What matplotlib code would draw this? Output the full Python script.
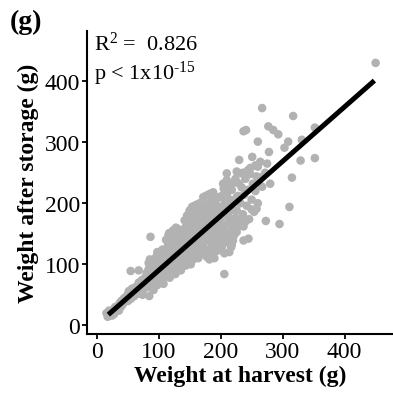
import numpy as np
import matplotlib.pyplot as plt

plt.rcParams['font.family'] = ['Liberation Serif', 'DejaVu Serif']
plt.rcParams['mathtext.fontset'] = 'custom'
plt.rcParams['mathtext.rm'] = 'Liberation Serif'
plt.rcParams['mathtext.it'] = 'Liberation Serif:italic'
plt.rcParams['mathtext.bf'] = 'Liberation Serif:bold'

# weight at harvest (g) and weight after storage (g), one entry per tuber
harvest = [
    16, 18, 20, 22, 24, 25, 27, 29, 30, 32, 34, 35, 37, 39, 40, 42, 44, 45, 47, 49, 28, 36,
    50, 51, 52, 53, 55, 56, 57, 58, 60, 61, 62, 63, 65, 66, 67, 68, 70, 71, 72, 73, 75, 76, 77, 78, 79, 74,
    80, 81, 82, 83, 84, 85, 86, 87, 88, 89, 90, 91, 92, 93, 94, 95, 96, 97, 98, 99, 100, 101, 102, 103,
    104, 105, 106, 107, 108, 109, 110, 84, 92, 96, 100, 104, 108, 86, 98, 106, 110, 88, 94, 102, 107,
    111, 112, 113, 114, 115, 116, 117, 118, 119, 120, 121, 122, 123, 124, 125, 126, 127, 128, 129, 130,
    131, 132, 133, 134, 135, 136, 137, 138, 139, 140, 112, 116, 120, 124, 128, 132, 136, 140, 114, 118,
    122, 126, 130, 134, 138, 113, 117, 121, 125, 129, 133, 137, 131, 135, 139,
    141, 142, 143, 144, 145, 146, 147, 148, 149, 150, 151, 152, 153, 154, 155, 156, 157, 158, 159, 160,
    161, 162, 163, 164, 165, 166, 167, 168, 169, 170, 142, 146, 150, 154, 158, 162, 166, 144, 148, 152,
    156, 160, 164, 168, 143, 147, 151, 155, 159, 163, 167, 145, 149, 153, 157, 161, 165, 169,
    171, 172, 173, 174, 175, 176, 177, 178, 179, 180, 181, 182, 183, 184, 185, 186, 187, 188, 189, 190,
    191, 192, 193, 194, 195, 196, 197, 198, 199, 200, 172, 176, 180, 184, 188, 174, 178, 182, 186, 190,
    194, 198, 173, 177, 181, 185, 189, 193, 197, 175, 179, 183, 187, 191, 195,
    201, 202, 203, 204, 205, 206, 207, 208, 209, 210, 211, 212, 213, 214, 215, 216, 217, 218, 219, 220,
    222, 224, 226, 228, 230, 204, 210, 214, 218, 222, 226, 228, 202, 206, 212, 216, 220, 224,
    232, 234, 236, 238, 240, 242, 244, 246, 248, 250, 252, 254, 256, 258, 260, 236, 244, 240, 250, 232,
    262, 268, 272, 280, 256, 264,
    450, 267, 317, 237, 241, 277, 285, 293, 352, 260, 309, 303, 331, 278, 251, 230, 329, 352, 275, 260,
    248, 226, 210, 234, 315, 267, 311, 295, 273, 258, 206, 87, 55, 68, 226, 237, 245, 237, 220, 217,
    117, 85,
]
storage = [
    20, 14, 24, 18, 22, 16, 26, 22, 30, 25, 31, 28, 36, 30, 40, 34, 44, 38, 46, 41, 18, 24,
    50, 40, 56, 46, 52, 44, 60, 50, 56, 48, 62, 54, 64, 52, 58, 70, 60, 68, 56, 74, 64, 70, 60, 78, 66, 50,
    72, 86, 64, 78, 92, 70, 82, 62, 96, 76, 88, 68, 100, 80, 92, 74, 104, 86, 66, 96, 82, 108, 90, 74,
    100, 84, 112, 94, 78, 104, 90, 102, 58, 112, 70, 118, 68, 108, 120, 124, 116, 84, 70, 102, 86,
    100, 120, 86, 108, 130, 96, 114, 78, 124, 104, 136, 92, 116, 140, 100, 126, 84, 110, 144, 118,
    96, 134, 106, 150, 122, 90, 130, 112, 146, 124, 140, 148, 152, 156, 160, 90, 104, 100, 82, 134,
    126, 112, 138, 96, 128, 124, 92, 114, 132, 102, 120, 150, 158, 140, 118,
    138, 112, 160, 126, 148, 104, 170, 132, 154, 118, 176, 140, 110, 162, 128, 180, 146, 120, 168, 136,
    186, 150, 124, 172, 140, 190, 156, 118, 178, 144, 172, 180, 188, 194, 196, 198, 200, 98, 108, 100,
    108, 112, 110, 134, 144, 122, 158, 146, 132, 164, 172, 162, 142, 172, 160, 126, 156, 162,
    168, 130, 188, 152, 176, 124, 198, 160, 140, 184, 166, 120, 200, 150, 178, 132, 204, 168, 146, 190,
    174, 128, 206, 158, 184, 140, 210, 176, 150, 194, 210, 212, 214, 216, 218, 116, 112, 108, 120, 110,
    122, 132, 172, 144, 192, 162, 182, 142, 168, 190, 174, 138, 156, 198, 166,
    170, 212, 146, 190, 224, 160, 202, 136, 182, 216, 150, 196, 228, 168, 206, 140, 188, 222, 158, 200,
    234, 176, 210, 162, 232, 232, 238, 120, 132, 148, 188, 212, 128, 118, 178, 226, 170, 240,
    200, 226, 182, 214, 240, 196, 222, 174, 248, 206, 232, 186, 220, 244, 200, 250, 254, 170, 190, 172,
    236, 244, 250, 232, 262, 268,
    430, 356, 343, 318, 320, 326, 320, 313, 324, 301, 301, 291, 304, 284, 276, 271, 270, 274, 265, 260,
    258, 252, 249, 249, 242, 227, 194, 166, 171, 191, 84, 145, 89, 90, 153, 162, 142, 139, 139, 128,
    151, 48,
]

# fitted regression line (slope and intercept of the model)
slope = 0.894
intercept = 0.5
fit_x = [19, 448]

fig = plt.figure(figsize=(3.93, 4.02), dpi=100)
ax = fig.add_axes([0.222, 0.167, 0.778, 0.753])

ax.scatter(harvest, storage, s=38, color='#b2b2b2', edgecolors='none', zorder=2)
fx = np.array(fit_x)
ax.plot(fx, slope * fx + intercept, color='black', lw=3.6, solid_capstyle='butt', zorder=3)

ax.set_xlim(-15, 478)
ax.set_ylim(-14, 482)
ax.set_xticks([0, 100, 200, 300, 400])
ax.set_yticks([0, 100, 200, 300, 400])
ax.spines['top'].set_visible(False)
ax.spines['right'].set_visible(False)
for s in ['left', 'bottom']:
    ax.spines[s].set_linewidth(1.5)
ax.tick_params(direction='out', length=3.5, width=1.3, labelsize=17, pad=1.5)

ax.set_xlabel('Weight at harvest (g)', fontsize=17, fontweight='bold', labelpad=2)
ax.set_ylabel('Weight after storage (g)', fontsize=17, fontweight='bold', labelpad=4)

ax.text(0.022, 1.0, 'R$^2$ =  0.826', transform=ax.transAxes, fontsize=16,
        va='top', ha='left')
ax.text(0.022, 0.91, r'p < 1x10$^{\text{-15}}$', transform=ax.transAxes, fontsize=16,
        va='top', ha='left')
fig.text(0.025, 0.975, '(g)', fontsize=20, fontweight='bold', va='top', ha='left')

fig.savefig('out.png', dpi=100)
